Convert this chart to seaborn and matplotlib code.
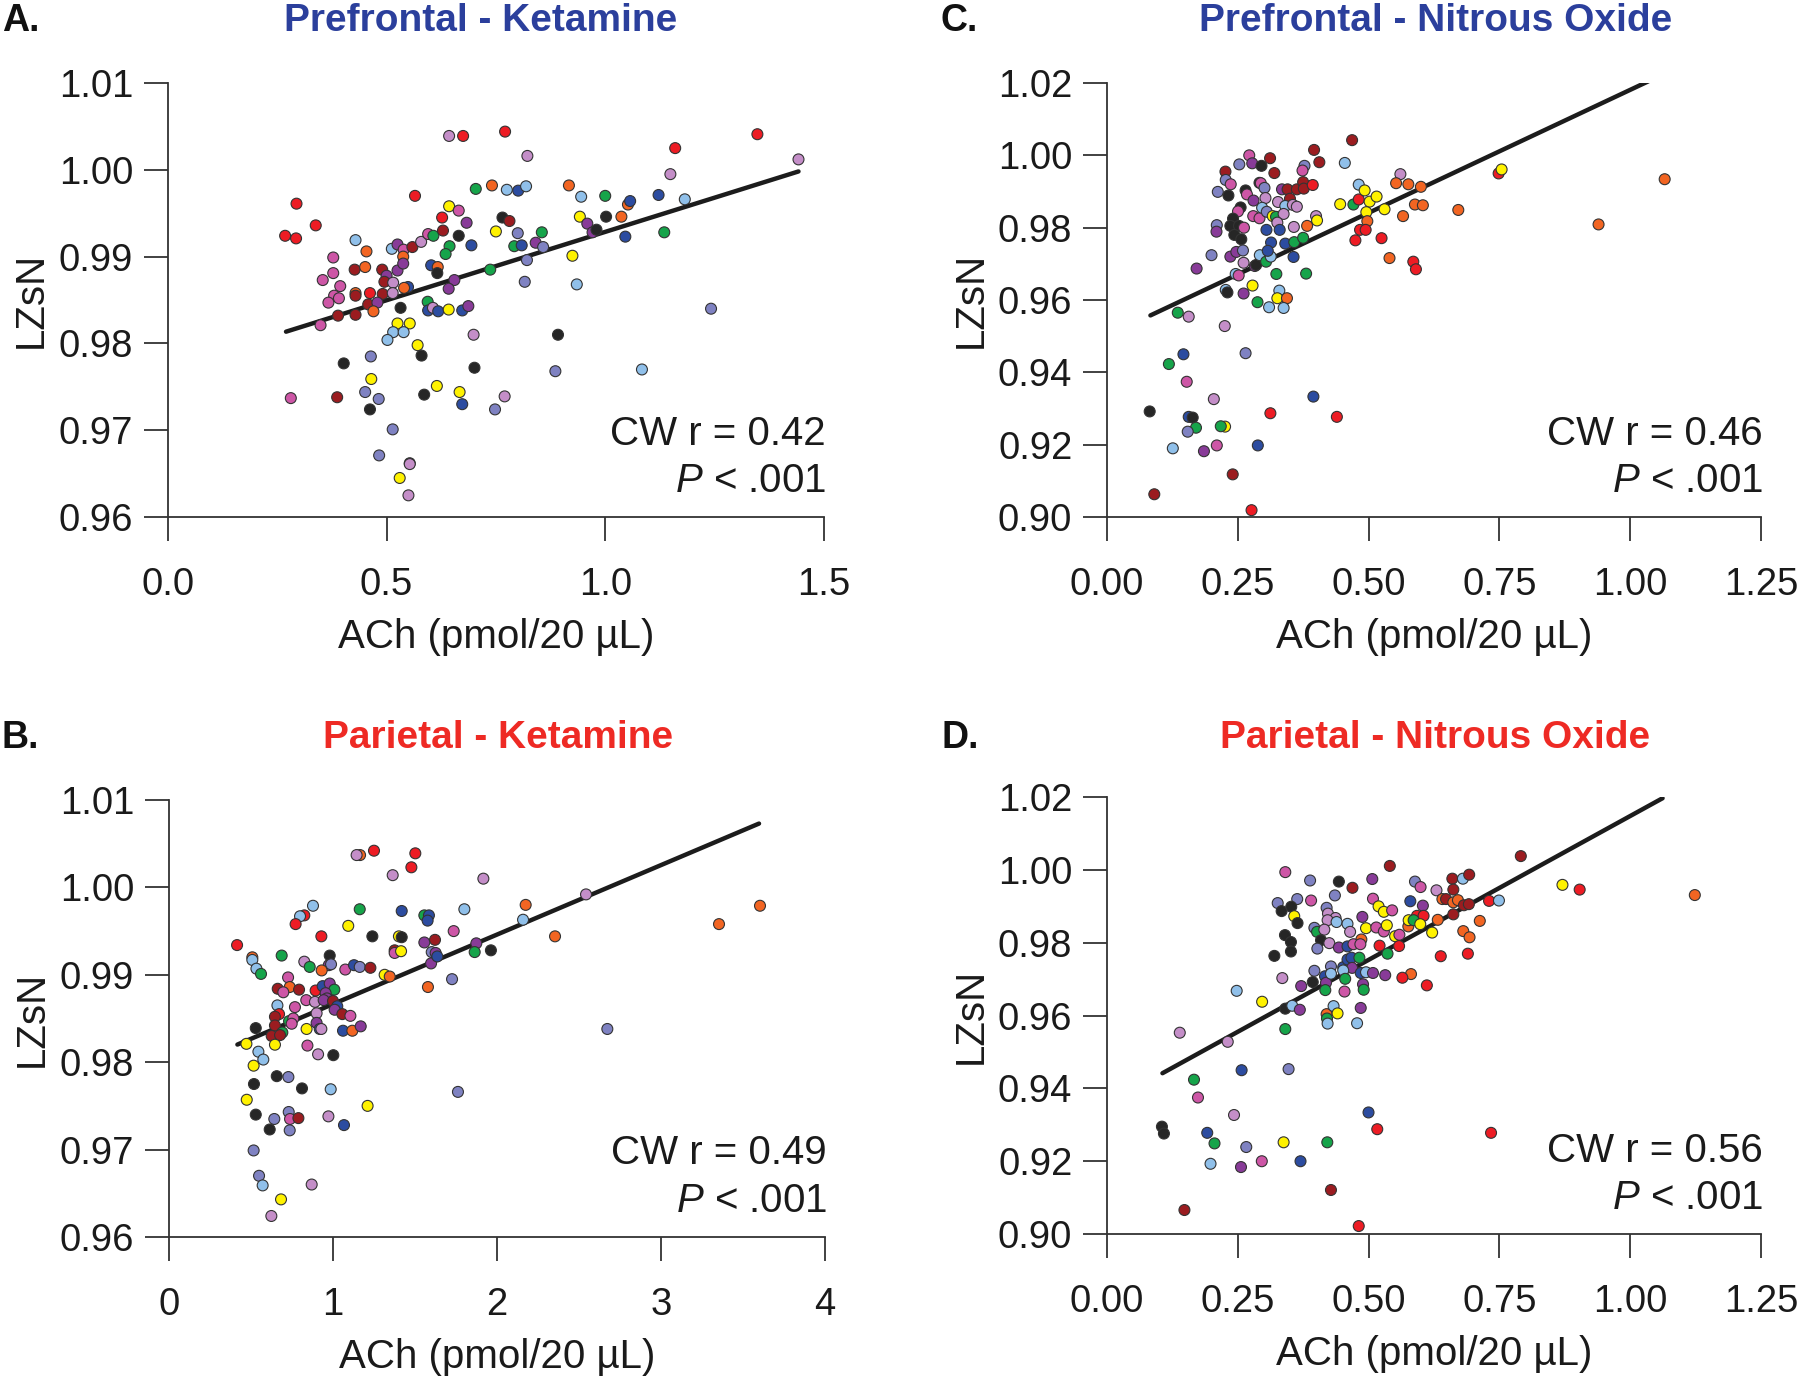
import numpy as np
import pandas as pd
import seaborn as sns
import matplotlib.pyplot as plt

# one colour per subject
subject_colors = {
    "R": "#ed1c24", "DR": "#9b1c20", "O": "#f26522", "Y": "#fff200",
    "G": "#16a44a", "DB": "#2c4ca0", "LB": "#90c0ea", "SL": "#7f82c2",
    "LV": "#c48ec8", "PK": "#cd56a6", "PU": "#883b98", "K": "#262626",
}

# (ACh, LZsN, subject)
a_points = [
    (0.643, 1.0039, "LV"), (0.675, 1.0039, "R"), (0.771, 1.0044, "R"), (0.822, 1.0016, "LV"),
    (0.704, 0.9978, "G"), (0.741, 0.9982, "O"), (0.775, 0.9977, "LB"), (0.801, 0.9976, "DB"),
    (0.819, 0.9981, "LB"), (0.917, 0.9982, "O"), (0.294, 0.9961, "R"), (0.565, 0.9970, "R"),
    (0.338, 0.9936, "R"), (0.268, 0.9924, "R"), (0.293, 0.9921, "R"), (0.643, 0.9958, "Y"),
    (0.665, 0.9953, "PK"), (0.627, 0.9945, "R"), (0.683, 0.9939, "PU"), (0.765, 0.9945, "K"),
    (0.781, 0.9941, "DR"), (0.750, 0.9929, "Y"), (0.800, 0.9927, "SL"), (0.855, 0.9928, "G"),
    (0.429, 0.9919, "LB"), (0.454, 0.9906, "O"), (0.512, 0.9909, "LB"), (0.525, 0.9914, "PU"),
    (0.539, 0.9908, "PK"), (0.559, 0.9911, "DR"), (0.579, 0.9917, "LV"), (0.595, 0.9926, "PK"),
    (0.607, 0.9924, "G"), (0.629, 0.9930, "DR"), (0.665, 0.9924, "K"), (0.644, 0.9912, "G"),
    (0.635, 0.9903, "G"), (0.694, 0.9913, "DB"), (0.792, 0.9912, "G"), (0.809, 0.9913, "DB"),
    (0.841, 0.9916, "PU"), (0.858, 0.9911, "SL"), (0.821, 0.9896, "SL"), (0.378, 0.9899, "PK"),
    (0.378, 0.9881, "PK"), (0.427, 0.9885, "DR"), (0.451, 0.9888, "O"), (0.354, 0.9873, "PK"),
    (0.394, 0.9866, "PK"), (0.490, 0.9885, "DR"), (0.500, 0.9878, "PU"), (0.495, 0.9871, "DR"),
    (0.515, 0.9870, "LV"), (0.525, 0.9884, "PU"), (0.538, 0.9900, "O"), (0.538, 0.9892, "PU"),
    (0.602, 0.9890, "DB"), (0.617, 0.9888, "O"), (0.616, 0.9881, "K"), (0.549, 0.9865, "DB"),
    (0.540, 0.9864, "O"), (0.655, 0.9873, "PU"), (0.642, 0.9863, "PU"), (0.737, 0.9885, "G"),
    (0.816, 0.9871, "SL"), (0.380, 0.9855, "PK"), (0.391, 0.9852, "PK"), (0.367, 0.9847, "PK"),
    (0.429, 0.9858, "O"), (0.429, 0.9855, "DR"), (0.462, 0.9858, "R"), (0.491, 0.9857, "DR"),
    (0.514, 0.9858, "LV"), (0.458, 0.9845, "DR"), (0.479, 0.9847, "PU"), (0.470, 0.9837, "O"),
    (0.429, 0.9833, "DR"), (0.389, 0.9832, "DR"), (0.349, 0.9821, "PK"), (0.532, 0.9841, "K"),
    (0.594, 0.9848, "G"), (0.595, 0.9838, "DB"), (0.606, 0.9841, "LV"), (0.618, 0.9837, "DB"),
    (0.642, 0.9839, "Y"), (0.673, 0.9838, "DB"), (0.687, 0.9843, "PU"), (0.525, 0.9823, "Y"),
    (0.553, 0.9823, "Y"), (0.515, 0.9813, "LB"), (0.539, 0.9813, "LB"), (0.502, 0.9804, "LB"),
    (0.699, 0.9810, "LV"), (0.571, 0.9798, "Y"), (0.580, 0.9786, "K"), (0.892, 0.9810, "K"),
    (0.402, 0.9777, "K"), (0.464, 0.9785, "SL"), (0.701, 0.9772, "K"), (0.886, 0.9768, "SL"),
    (0.465, 0.9759, "Y"), (0.615, 0.9751, "Y"), (0.451, 0.9744, "SL"), (0.482, 0.9736, "SL"),
    (0.462, 0.9724, "K"), (0.586, 0.9741, "K"), (0.667, 0.9744, "Y"), (0.673, 0.9730, "DB"),
    (0.770, 0.9739, "LV"), (0.748, 0.9724, "SL"), (0.281, 0.9737, "PK"), (0.387, 0.9738, "DR"),
    (0.514, 0.9701, "SL"), (0.483, 0.9671, "SL"), (0.553, 0.9662, "K"), (0.553, 0.9661, "LV"),
    (0.530, 0.9645, "Y"), (0.550, 0.9625, "LV"),
    (0.945, 0.9969, "LB"), (1.000, 0.9970, "G"), (1.052, 0.9960, "O"), (1.057, 0.9964, "DB"),
    (1.122, 0.9971, "DB"), (1.182, 0.9966, "LB"), (1.149, 0.9995, "LV"), (1.160, 1.0025, "R"),
    (1.348, 1.0041, "R"), (1.442, 1.0012, "LV"), (0.942, 0.9946, "Y"), (0.959, 0.9938, "PU"),
    (0.971, 0.9928, "PU"), (0.980, 0.9931, "K"), (1.002, 0.9946, "K"), (1.037, 0.9946, "O"),
    (1.046, 0.9923, "DB"), (1.135, 0.9928, "G"), (0.925, 0.9901, "Y"), (0.935, 0.9868, "LB"),
    (1.242, 0.9840, "SL"), (1.084, 0.9770, "LB"),
]

b_points = [
    (1.165, 1.0037, "O"), (1.144, 1.0037, "LV"), (1.250, 1.0042, "R"), (1.502, 1.0039, "R"),
    (1.478, 1.0023, "R"), (1.364, 1.0014, "LV"), (1.917, 1.0010, "LV"), (0.878, 0.9979, "LB"),
    (0.825, 0.9968, "R"), (0.799, 0.9967, "LB"), (0.772, 0.9958, "R"), (1.163, 0.9975, "G"),
    (1.419, 0.9973, "DB"), (1.557, 0.9968, "G"), (1.585, 0.9968, "DB"), (1.577, 0.9962, "DB"),
    (1.801, 0.9975, "LB"), (1.093, 0.9956, "Y"), (0.929, 0.9944, "R"), (1.240, 0.9944, "K"),
    (1.402, 0.9944, "Y"), (1.419, 0.9943, "K"), (1.736, 0.9950, "PK"), (1.557, 0.9937, "PU"),
    (1.622, 0.9940, "DR"), (0.415, 0.9934, "R"), (0.508, 0.9920, "O"), (0.508, 0.9917, "LB"),
    (0.533, 0.9907, "LB"), (0.561, 0.9901, "G"), (0.687, 0.9922, "G"), (0.980, 0.9922, "K"),
    (0.825, 0.9915, "LV"), (0.858, 0.9909, "G"), (0.974, 0.9911, "PU"), (0.988, 0.9912, "SL"),
    (0.931, 0.9905, "O"), (1.075, 0.9906, "PK"), (1.128, 0.9911, "DB"), (1.163, 0.9909, "SL"),
    (1.228, 0.9908, "DR"), (1.376, 0.9928, "DR"), (1.376, 0.9925, "PK"), (1.415, 0.9927, "Y"),
    (1.602, 0.9926, "SL"), (1.626, 0.9925, "PU"), (1.598, 0.9913, "PU"), (1.636, 0.9921, "DB"),
    (1.874, 0.9936, "PU"), (1.864, 0.9926, "G"), (1.963, 0.9928, "K"), (1.315, 0.9900, "Y"),
    (1.346, 0.9898, "O"), (1.579, 0.9886, "O"), (1.726, 0.9895, "SL"), (0.726, 0.9897, "PK"),
    (0.736, 0.9886, "O"), (0.663, 0.9884, "DR"), (0.697, 0.9880, "PK"), (0.793, 0.9883, "DR"),
    (0.894, 0.9882, "R"), (0.937, 0.9887, "DB"), (0.980, 0.9890, "PU"), (1.008, 0.9883, "G"),
    (0.955, 0.9879, "PU"), (0.963, 0.9873, "PU"), (0.837, 0.9871, "PK"), (0.890, 0.9869, "LV"),
    (0.943, 0.9871, "PU"), (1.000, 0.9870, "DR"), (1.026, 0.9864, "DB"), (1.010, 0.9860, "PU"),
    (1.057, 0.9855, "DR"), (1.106, 0.9853, "PK"), (0.661, 0.9865, "LB"), (0.671, 0.9855, "R"),
    (0.646, 0.9852, "DR"), (0.646, 0.9842, "DR"), (0.768, 0.9863, "PK"), (0.732, 0.9847, "G"),
    (0.758, 0.9850, "PK"), (0.748, 0.9844, "PK"), (0.900, 0.9856, "LV"), (0.900, 0.9845, "PU"),
    (0.919, 0.9838, "DB"), (0.929, 0.9838, "LV"), (1.061, 0.9836, "DB"), (1.118, 0.9836, "O"),
    (1.169, 0.9841, "PU"), (0.839, 0.9838, "Y"), (0.529, 0.9839, "K"), (0.691, 0.9834, "G"),
    (0.626, 0.9830, "DR"), (0.677, 0.9831, "DR"), (0.472, 0.9821, "Y"), (0.646, 0.9820, "Y"),
    (0.844, 0.9819, "PK"), (0.909, 0.9809, "LV"), (1.002, 0.9808, "K"), (0.545, 0.9812, "LB"),
    (0.575, 0.9803, "LB"), (0.516, 0.9796, "Y"), (0.657, 0.9784, "K"), (0.728, 0.9783, "SL"),
    (0.518, 0.9775, "K"), (0.811, 0.9770, "K"), (0.986, 0.9769, "LB"), (1.762, 0.9766, "SL"),
    (0.474, 0.9757, "Y"), (1.211, 0.9750, "Y"), (0.529, 0.9740, "K"), (0.642, 0.9735, "SL"),
    (0.730, 0.9743, "SL"), (0.738, 0.9735, "PK"), (0.789, 0.9736, "DR"), (0.972, 0.9738, "LV"),
    (1.067, 0.9728, "DB"), (0.614, 0.9723, "K"), (0.736, 0.9722, "SL"), (0.516, 0.9699, "SL"),
    (0.549, 0.9670, "SL"), (0.571, 0.9659, "LB"), (0.870, 0.9660, "LV"), (0.683, 0.9643, "Y"),
    (0.624, 0.9624, "LV"),
    (2.175, 0.9980, "O"), (2.159, 0.9963, "LB"), (2.354, 0.9944, "O"), (2.543, 0.9992, "LV"),
    (2.673, 0.9838, "SL"), (3.354, 0.9958, "O"), (3.604, 0.9979, "O"),
]

c_points = [
    (0.4685, 1.0042, "DR"), (0.3958, 1.0015, "DR"), (0.4059, 0.9981, "DR"), (0.4546, 0.9979, "LB"),
    (0.2719, 1.0000, "PK"), (0.3117, 0.9992, "DR"), (0.2529, 0.9975, "SL"), (0.2776, 0.9978, "PU"),
    (0.2953, 0.9971, "K"), (0.2264, 0.9955, "DR"), (0.3199, 0.9951, "DR"), (0.3775, 0.9971, "SL"),
    (0.3737, 0.9958, "PK"), (0.2270, 0.9932, "SL"), (0.2365, 0.9920, "PK"), (0.2118, 0.9899, "SL"),
    (0.2321, 0.9889, "K"), (0.2649, 0.9903, "K"), (0.2675, 0.9892, "PK"), (0.2801, 0.9875, "PU"),
    (0.2915, 0.9924, "K"), (0.2940, 0.9923, "PK"), (0.3010, 0.9910, "SL"), (0.3029, 0.9882, "LV"),
    (0.3269, 0.9871, "LV"), (0.3345, 0.9906, "PU"), (0.3452, 0.9906, "DR"), (0.3497, 0.9880, "DR"),
    (0.3629, 0.9906, "DR"), (0.3749, 0.9926, "DR"), (0.3762, 0.9908, "DR"), (0.3933, 0.9918, "R"),
    (0.3408, 0.9860, "LB"), (0.3553, 0.9863, "LV"), (0.3629, 0.9858, "LV"), (0.2554, 0.9856, "K"),
    (0.2504, 0.9845, "PK"), (0.2409, 0.9825, "K"), (0.2358, 0.9805, "K"), (0.2523, 0.9805, "K"),
    (0.2618, 0.9800, "PK"), (0.2099, 0.9807, "SL"), (0.2093, 0.9789, "PU"), (0.2434, 0.9780, "K"),
    (0.2567, 0.9768, "K"), (0.2795, 0.9832, "PK"), (0.2915, 0.9826, "PK"), (0.2965, 0.9855, "LB"),
    (0.3054, 0.9844, "SL"), (0.3168, 0.9832, "Y"), (0.3231, 0.9830, "G"), (0.3376, 0.9838, "LV"),
    (0.3256, 0.9814, "LV"), (0.3048, 0.9794, "DB"), (0.3301, 0.9794, "DB"), (0.3572, 0.9802, "LV"),
    (0.3996, 0.9832, "LV"), (0.4015, 0.9820, "Y"), (0.3825, 0.9805, "O"), (0.3136, 0.9759, "DB"),
    (0.3408, 0.9756, "DB"), (0.3579, 0.9760, "G"), (0.3749, 0.9772, "G"), (0.3566, 0.9719, "DB"),
    (0.1998, 0.9724, "SL"), (0.1713, 0.9687, "PU"), (0.2358, 0.9720, "PU"), (0.2472, 0.9733, "PU"),
    (0.2599, 0.9737, "SL"), (0.2611, 0.9703, "LV"), (0.2826, 0.9694, "PU"), (0.2852, 0.9697, "K"),
    (0.2921, 0.9724, "LB"), (0.3041, 0.9706, "G"), (0.3130, 0.9720, "LB"), (0.3073, 0.9736, "DB"),
    (0.3237, 0.9672, "G"), (0.3806, 0.9673, "G"), (0.2460, 0.9672, "LB"), (0.2517, 0.9668, "PK"),
    (0.2270, 0.9628, "LB"), (0.2302, 0.9621, "K"), (0.2611, 0.9618, "PU"), (0.2782, 0.9640, "Y"),
    (0.2877, 0.9594, "G"), (0.3098, 0.9580, "LB"), (0.3294, 0.9626, "LB"), (0.3256, 0.9605, "Y"),
    (0.3440, 0.9605, "O"), (0.3376, 0.9578, "LB"),
    (0.4457, 0.9865, "Y"), (0.4710, 0.9864, "G"), (0.4812, 0.9878, "R"), (0.4812, 0.9919, "LB"),
    (0.4925, 0.9903, "Y"), (0.5020, 0.9872, "Y"), (0.5153, 0.9886, "Y"), (0.4957, 0.9843, "Y"),
    (0.4976, 0.9818, "O"), (0.5305, 0.9851, "Y"), (0.4837, 0.9794, "R"), (0.4944, 0.9794, "R"),
    (0.4748, 0.9765, "R"), (0.5248, 0.9771, "R"), (0.5400, 0.9716, "O"), (0.5659, 0.9832, "O"),
    (0.5608, 0.9948, "LV"), (0.5526, 0.9923, "O"), (0.5760, 0.9920, "O"), (0.6000, 0.9913, "O"),
    (0.5886, 0.9864, "O"), (0.6038, 0.9862, "O"), (0.5855, 0.9706, "R"), (0.5905, 0.9685, "R"),
    (0.6715, 0.9849, "O"), (0.7486, 0.9950, "R"), (0.7543, 0.9961, "Y"), (0.9396, 0.9809, "O"),
    (1.0660, 0.9934, "O"),
    (0.1353, 0.9565, "G"), (0.1562, 0.9554, "LV"), (0.2251, 0.9528, "LV"), (0.1461, 0.9450, "DB"),
    (0.2649, 0.9453, "SL"), (0.1183, 0.9423, "G"), (0.1524, 0.9374, "PK"), (0.2042, 0.9326, "LV"),
    (0.3945, 0.9333, "DB"), (0.0816, 0.9292, "K"), (0.1562, 0.9277, "DB"), (0.1638, 0.9275, "K"),
    (0.1701, 0.9247, "G"), (0.1543, 0.9236, "SL"), (0.2257, 0.9250, "Y"), (0.2175, 0.9251, "G"),
    (0.3123, 0.9287, "R"), (0.4394, 0.9277, "R"), (0.1258, 0.9190, "LB"), (0.1853, 0.9182, "PU"),
    (0.2099, 0.9198, "PK"), (0.2883, 0.9198, "DB"), (0.2403, 0.9118, "DR"), (0.0904, 0.9063, "DR"),
    (0.2763, 0.9019, "R"),
]

d_points = [
    (0.3408, 0.9994, "PK"), (0.3882, 0.9971, "SL"), (0.4432, 0.9968, "K"), (0.4692, 0.9951, "DR"),
    (0.5071, 0.9975, "PU"), (0.5406, 1.0011, "DR"), (0.5887, 0.9968, "SL"), (0.5994, 0.9953, "PK"),
    (0.6298, 0.9944, "LV"), (0.6601, 0.9976, "DR"), (0.6620, 0.9946, "DR"), (0.3263, 0.9909, "SL"),
    (0.3636, 0.9920, "SL"), (0.3338, 0.9887, "K"), (0.3522, 0.9899, "K"), (0.3579, 0.9873, "Y"),
    (0.3642, 0.9854, "K"), (0.3901, 0.9916, "PK"), (0.4198, 0.9896, "SL"), (0.4356, 0.9930, "SL"),
    (0.4224, 0.9880, "LV"), (0.4369, 0.9868, "LV"), (0.4217, 0.9862, "LV"), (0.4388, 0.9857, "LB"),
    (0.3964, 0.9841, "SL"), (0.4015, 0.9830, "G"), (0.4154, 0.9836, "LV"), (0.4091, 0.9807, "K"),
    (0.4249, 0.9799, "LV"), (0.4021, 0.9784, "SL"), (0.4432, 0.9787, "PU"), (0.4597, 0.9790, "DB"),
    (0.4862, 0.9809, "O"), (0.4711, 0.9796, "PK"), (0.4843, 0.9796, "PK"), (0.4597, 0.9852, "LB"),
    (0.4647, 0.9830, "LV"), (0.4881, 0.9871, "PU"), (0.5084, 0.9921, "PK"), (0.5191, 0.9900, "Y"),
    (0.5292, 0.9885, "Y"), (0.5450, 0.9889, "PK"), (0.4951, 0.9840, "Y"), (0.5147, 0.9842, "PK"),
    (0.5292, 0.9831, "PK"), (0.5349, 0.9848, "Y"), (0.5507, 0.9818, "Y"), (0.5589, 0.9822, "PK"),
    (0.5210, 0.9792, "R"), (0.5583, 0.9791, "R"), (0.5362, 0.9770, "G"), (0.5798, 0.9914, "DB"),
    (0.6038, 0.9902, "PU"), (0.5760, 0.9845, "O"), (0.5766, 0.9862, "Y"), (0.5925, 0.9874, "R"),
    (0.6051, 0.9874, "R"), (0.5861, 0.9862, "G"), (0.5988, 0.9851, "Y"), (0.6215, 0.9828, "Y"),
    (0.6323, 0.9863, "O"), (0.6411, 0.9920, "O"), (0.6481, 0.9920, "DR"), (0.6620, 0.9911, "O"),
    (0.6620, 0.9878, "DR"), (0.6380, 0.9763, "R"), (0.6114, 0.9683, "R"), (0.5811, 0.9714, "O"),
    (0.5646, 0.9704, "R"), (0.3402, 0.9821, "K"), (0.3516, 0.9802, "K"), (0.3516, 0.9776, "K"),
    (0.3199, 0.9764, "K"), (0.3351, 0.9703, "LV"), (0.3712, 0.9681, "PU"), (0.3933, 0.9692, "K"),
    (0.3964, 0.9723, "SL"), (0.4167, 0.9708, "DB"), (0.4186, 0.9690, "PU"), (0.4173, 0.9670, "G"),
    (0.4281, 0.9735, "SL"), (0.4281, 0.9715, "LB"), (0.4515, 0.9733, "DB"), (0.4597, 0.9754, "DB"),
    (0.4673, 0.9759, "DB"), (0.4824, 0.9759, "G"), (0.4685, 0.9731, "PU"), (0.4515, 0.9724, "LB"),
    (0.4553, 0.9701, "G"), (0.4850, 0.9717, "DB"), (0.4951, 0.9719, "LB"), (0.5084, 0.9717, "PU"),
    (0.5318, 0.9711, "PU"), (0.4894, 0.9686, "PU"), (0.4907, 0.9671, "G"), (0.4540, 0.9666, "PK"),
    (0.2479, 0.9668, "LB"), (0.2965, 0.9638, "Y"), (0.3408, 0.9619, "K"), (0.3541, 0.9627, "LB"),
    (0.3686, 0.9616, "PU"), (0.4198, 0.9604, "O"), (0.4205, 0.9592, "G"), (0.4217, 0.9578, "LB"),
    (0.4331, 0.9626, "LB"), (0.4407, 0.9606, "Y"), (0.4850, 0.9621, "PU"), (0.4780, 0.9579, "LB"),
    (0.3408, 0.9563, "G"), (0.1391, 0.9553, "LV"), (0.2308, 0.9528, "LV"),
    (0.6708, 0.9917, "O"), (0.6803, 0.9976, "LB"), (0.6923, 0.9987, "DR"), (0.6822, 0.9903, "DR"),
    (0.6917, 0.9906, "DR"), (0.7910, 1.0038, "DR"), (0.7303, 0.9915, "R"), (0.7492, 0.9916, "LB"),
    (0.7126, 0.9860, "O"), (0.6810, 0.9832, "O"), (0.6930, 0.9815, "O"), (0.6898, 0.9770, "R"),
    (0.8706, 0.9959, "Y"), (0.9035, 0.9946, "R"), (1.1236, 0.9931, "O"),
    (0.2573, 0.9450, "DB"), (0.3471, 0.9453, "SL"), (0.1663, 0.9424, "G"), (0.1739, 0.9375, "PK"),
    (0.2428, 0.9327, "LV"), (0.1050, 0.9295, "K"), (0.1088, 0.9276, "K"), (0.1916, 0.9278, "DB"),
    (0.2055, 0.9249, "G"), (0.2662, 0.9239, "SL"), (0.3376, 0.9252, "Y"), (0.4211, 0.9252, "G"),
    (0.1979, 0.9193, "LB"), (0.2561, 0.9184, "PU"), (0.2959, 0.9200, "PK"), (0.3699, 0.9200, "DB"),
    (0.4999, 0.9334, "DB"), (0.5166, 0.9288, "R"), (0.7341, 0.9278, "R"), (0.4281, 0.9121, "DR"),
    (0.1480, 0.9066, "DR"), (0.4812, 0.9022, "R"),
]

# fitted lines: slope, intercept, x start, x end
a_fit = (0.01575, 0.9771, 0.270, 1.442)
b_fit = (0.00795, 0.9787, 0.417, 3.598)
c_fit = (0.0680, 0.9501, 0.083, 1.035)
d_fit = (0.0790, 0.9358, 0.106, 1.062)

titles = ["Prefrontal - Ketamine", "Parietal - Ketamine",
          "Prefrontal - Nitrous Oxide", "Parietal - Nitrous Oxide"]
letters = ["A.", "B.", "C.", "D."]
r_values = ["0.42", "0.49", "0.46", "0.56"]

ket_y_ticks = [0.96, 0.97, 0.98, 0.99, 1.00, 1.01]
n2o_y_ticks = [0.90, 0.92, 0.94, 0.96, 0.98, 1.00, 1.02]
a_x_ticks = [0.0, 0.5, 1.0, 1.5]
b_x_ticks = [0, 1, 2, 3, 4]
n2o_x_ticks = [0.00, 0.25, 0.50, 0.75, 1.00, 1.25]

sns.set_style("ticks")
plt.rcParams["font.family"] = ["Liberation Sans", "DejaVu Sans"]
plt.rcParams["mathtext.fontset"] = "custom"
plt.rcParams["mathtext.rm"] = "Liberation Sans"
plt.rcParams["mathtext.it"] = "Liberation Sans:italic"

BLUE = "#2b3f9c"
RED = "#ee2a24"
FS = 29

fig = plt.figure(figsize=(18, 13.81), dpi=100)
axes_pos = [
    [0.0933, 0.6256, 0.3644, 0.3143],
    [0.0939, 0.1043, 0.3644, 0.3164],
    [0.6150, 0.6256, 0.3633, 0.3143],
    [0.6150, 0.1064, 0.3633, 0.3164],
]
panel_points = [a_points, b_points, c_points, d_points]
panel_fits = [a_fit, b_fit, c_fit, d_fit]
x_ticks = [a_x_ticks, b_x_ticks, n2o_x_ticks, n2o_x_ticks]
x_fmt = ["{:.1f}", "{:d}", "{:.2f}", "{:.2f}"]
y_ticks = [ket_y_ticks, ket_y_ticks, n2o_y_ticks, n2o_y_ticks]

for i in range(4):
    ax = fig.add_axes(axes_pos[i])
    df = pd.DataFrame(panel_points[i], columns=["ach", "lzsn", "subject"])

    slope, intercept, x0, x1 = panel_fits[i]
    xs = np.array([x0, x1])
    ax.plot(xs, intercept + slope * xs, color="#1c1c1c", lw=3.2, zorder=1)

    sns.scatterplot(data=df, x="ach", y="lzsn", hue="subject", palette=subject_colors,
                    s=62, edgecolor="#333333", linewidth=0.8, legend=False,
                    ax=ax, zorder=2, clip_on=False)

    xt = x_ticks[i]
    ax.set_xlim(xt[0], xt[-1])
    ax.set_xticks(xt)
    ax.set_xticklabels([x_fmt[i].format(v) for v in xt])
    yt = y_ticks[i]
    ax.set_ylim(yt[0], yt[-1])
    ax.set_yticks(yt)
    ax.set_yticklabels(["{:.2f}".format(v) for v in yt])

    sns.despine(ax=ax)
    for side in ["left", "bottom"]:
        ax.spines[side].set_linewidth(1.3)
        ax.spines[side].set_color("#333333")
    ax.tick_params(axis="both", length=17, width=1.3, color="#333333",
                   labelsize=27.5, labelcolor="#1a1a1a")
    ax.tick_params(axis="x", pad=19)
    ax.tick_params(axis="y", pad=8)

    ax.set_xlabel("ACh (pmol/20 µL)", fontsize=FS, color="#1a1a1a", labelpad=11)
    ax.set_ylabel("LZsN", fontsize=FS, color="#1a1a1a")
    ax.yaxis.set_label_coords(-0.18, 0.5)

    ax.text(1.003, 0.166, "CW r = " + r_values[i], transform=ax.transAxes,
            ha="right", va="baseline", fontsize=FS, color="#1a1a1a")
    ax.text(1.003, 0.057, r"$\mathit{P}$ < .001", transform=ax.transAxes,
            ha="right", va="baseline", fontsize=FS, color="#1a1a1a")

# titles and panel letters
title_x = [481, 498, 1436, 1435]
title_base = [31, 748, 31, 748]
title_col = [BLUE, RED, BLUE, RED]
letter_x = [2, 2, 941, 941]
for i in range(4):
    fig.text(title_x[i] / 1800, 1 - title_base[i] / 1381, titles[i], ha="center",
             va="baseline", fontsize=28, fontweight="bold", color=title_col[i])
    fig.text(letter_x[i] / 1800, 1 - title_base[i] / 1381, letters[i], ha="left",
             va="baseline", fontsize=27, fontweight="bold", color="#111111")

fig.savefig("out.png", dpi=100, facecolor="white")
